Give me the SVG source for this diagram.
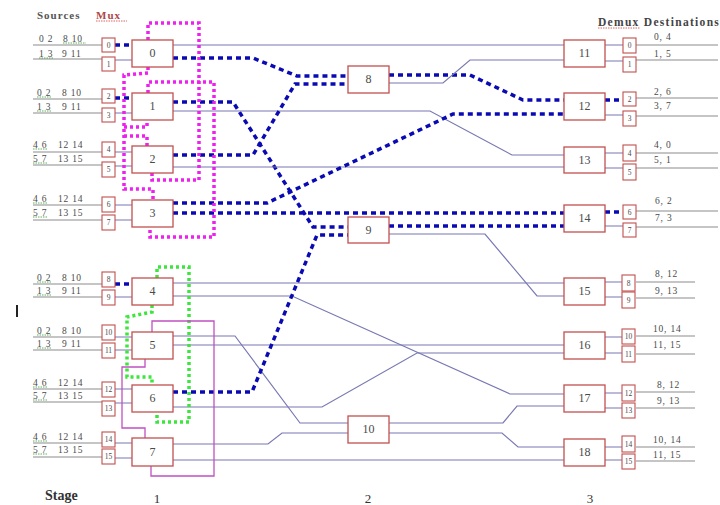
<svg xmlns="http://www.w3.org/2000/svg" width="720" height="505" viewBox="0 0 720 505">
<style>
text{font-family:"Liberation Serif","Times New Roman",serif;fill:#4a4a4a}
.bx{fill:#fff;stroke:#c0504d;stroke-width:1.3}
.sb{fill:#fff;stroke:#c0504d;stroke-width:1.1}
.bl{font-size:12px;text-anchor:middle}
.sl{font-size:7.5px;text-anchor:middle}
.lb{font-size:9.5px;letter-spacing:0.8px}
.t{fill:none;stroke:#7878b4;stroke-width:1.2}
.s{fill:none;stroke:#8c8c8c;stroke-width:1.2}
.d{fill:none;stroke:#0a0ab4;stroke-width:3.5;stroke-dasharray:5,4}
.m{fill:none;stroke:#f01ef0;stroke-width:3.5;stroke-dasharray:3,3}
.g{fill:none;stroke:#3ce63c;stroke-width:3.5;stroke-dasharray:3,3}
.p{fill:none;stroke:#c050c0;stroke-width:1.3}
.u{fill:none;stroke:#3a9a3a;stroke-width:0.8;stroke-dasharray:1.5,1}
</style>
<g id="headers">
<text x="37" y="19" font-size="11" font-weight="bold" letter-spacing="1" style="fill:#555">Sources</text>
<text x="96" y="19" font-size="11" font-weight="bold" letter-spacing="1" style="fill:#b04848">Mux</text>
<path d="M96,21 H127" stroke="#d04040" stroke-width="0.8" stroke-dasharray="1.5,1"/>
<text x="598" y="26" font-size="11.5" font-weight="bold" letter-spacing="1.3" style="fill:#444">Demux Destinations</text>
<path d="M598,28 H640" stroke="#d04040" stroke-width="0.8" stroke-dasharray="1.5,1"/>
<text x="45" y="500" font-size="14" font-weight="bold" style="fill:#333">Stage</text>
<text x="157" y="503" font-size="13" text-anchor="middle" style="fill:#333">1</text>
<text x="368" y="503" font-size="13" text-anchor="middle" style="fill:#333">2</text>
<text x="590" y="503" font-size="13" text-anchor="middle" style="fill:#333">3</text>
<rect x="16" y="305" width="2" height="12" fill="#222"/>
</g>
<g id="source-lines">
<path class="s" d="M33,45 H102 M33,59 H102 M33,99 H102 M33,113 H102 M33,152 H102 M33,165 H102 M33,205 H102 M33,220 H102 M33,284 H102 M33,297 H102 M33,337 H102 M33,350 H102 M33,389 H102 M33,402 H102 M33,443 H102 M33,457 H102"/>
<path class="s" d="M636,45 H718 M636,60 H718 M636,98 H718 M636,116 H718 M636,153 H718 M636,168 H718 M636,211 H718 M636,227 H718 M636,282 H695 M636,298 H695 M636,336 H695 M636,354 H695 M636,392 H695 M636,408 H695 M636,447 H695 M636,461 H695"/>
</g>
<g id="source-labels" class="lb">
<text x="39" y="42">0 2<tspan x="63">8 10</tspan></text>
<text x="39" y="57">1 3<tspan x="62">9  11</tspan></text>
<text x="37" y="96">0 2<tspan x="62">8  10</tspan></text>
<text x="37" y="110">1 3<tspan x="62">9  11</tspan></text>
<text x="33" y="148">4 6<tspan x="58">12 14</tspan></text>
<text x="33" y="162">5 7<tspan x="58">13 15</tspan></text>
<text x="33" y="202">4 6<tspan x="58">12 14</tspan></text>
<text x="33" y="216">5 7<tspan x="58">13 15</tspan></text>
<text x="37" y="281">0 2<tspan x="62">8  10</tspan></text>
<text x="37" y="294">1 3<tspan x="62">9  11</tspan></text>
<text x="37" y="334">0 2<tspan x="62">8  10</tspan></text>
<text x="37" y="347">1 3<tspan x="62">9  11</tspan></text>
<text x="33" y="386">4 6<tspan x="58">12 14</tspan></text>
<text x="33" y="399">5 7<tspan x="58">13 15</tspan></text>
<text x="33" y="440">4 6<tspan x="58">12 14</tspan></text>
<text x="33" y="453">5 7<tspan x="58">13 15</tspan></text>
<path class="u" d="M63,43 H86 M39,58 H54 M37,97 H52 M37,111 H52 M33,149 H48 M33,163 H48 M33,203 H48 M33,217 H48 M37,282 H52 M37,295 H52 M37,335 H52 M37,348 H52 M33,387 H48 M33,400 H48 M33,441 H48 M33,454 H48"/>
</g>
<g id="dest-labels" class="lb">
<text x="654" y="40">0, 4</text>
<text x="654" y="57">1, 5</text>
<text x="654" y="95">2, 6</text>
<text x="654" y="109">3, 7</text>
<text x="654" y="148">4, 0</text>
<text x="654" y="163">5, 1</text>
<text x="655" y="204">6, 2</text>
<text x="655" y="221">7, 3</text>
<text x="655" y="277">8, 12</text>
<text x="655" y="294">9, 13</text>
<text x="653" y="332">10, 14</text>
<text x="653" y="348">11, 15</text>
<text x="657" y="388">8, 12</text>
<text x="657" y="404">9, 13</text>
<text x="653" y="443">10, 14</text>
<text x="653" y="458">11, 15</text>
</g>
<g id="connectors">
<path class="d" d="M115,45 H132 M115,98 H132 M115,284 H132"/>
<path class="t" d="M115,60 H132 M115,113 H132 M115,152 H132 M115,166 H132 M115,205 H132 M115,220 H132 M115,297 H132 M115,337 H132 M115,350 H132 M115,389 H132 M115,403 H132 M115,443 H132 M115,458 H132"/>
<path class="t" d="M173,45 H564"/>
<path class="d" d="M173,58 H253 L297,76 H348"/>
<path class="d" d="M173,102 H233 L313,227 H348"/>
<path class="t" d="M173,111 H430 L512,155 H564"/>
<path class="d" d="M173,155 H253 L295,84 H348"/>
<path class="t" d="M173,167 H564"/>
<path class="d" d="M173,203 H267 L453,114 H564"/>
<path class="d" d="M173,213 H564"/>
<path class="t" d="M173,283 H564"/>
<path class="t" d="M173,296 H292 L510,394 H564"/>
<path class="t" d="M173,336 H235 L300,423 H348"/>
<path class="t" d="M173,345 H564"/>
<path class="d" d="M173,392 H252 L317,235 H348"/>
<path class="t" d="M173,407 H322 L417,353 H564"/>
<path class="t" d="M173,444 H268 L282,433 H348"/>
<path class="t" d="M173,460 H564"/>
<path class="d" d="M389,75 H470 L523,100 H564"/>
<path class="t" d="M389,83 H443 L470,60 H564"/>
<path class="d" d="M389,226 H564"/>
<path class="t" d="M389,234 H485 L537,296 H564"/>
<path class="t" d="M389,423 H503 L517,406 H564"/>
<path class="t" d="M389,433 H502 L518,447 H564"/>
<path class="d" d="M605,100 H623 M605,212 H623"/>
<path class="t" d="M605,45 H623 M605,61 H623 M605,115 H623 M605,153 H623 M605,168 H623 M605,226 H623 M605,282 H623 M605,297 H623 M605,337 H623 M605,353 H623 M605,393 H623 M605,408 H623 M605,447 H623 M605,460 H623"/>
</g>
<g id="groupings">
<path class="m" d="M148,40 V23 H199 V180 H152 V173"/>
<path class="m" d="M148,93 V82 H214 V237 H150 V227"/>
<path class="m" d="M148,67 V73 L124,75 V189 H153 V200 M124,127 H147 V120 M124,136 H147 V146"/>
<path class="g" d="M157,278 V267 H189 V422 H157 V412"/>
<path class="g" d="M152,305 V312 L127,317 V377 H152 V385"/>
<path class="p" d="M152,332 V321 H214 V476 H151 V466"/>
<path class="p" d="M145,359 V367 H122 V428 H145 V438"/>
</g>
<g id="in-ports">
<rect class="sb" x="102" y="38" width="13" height="14"/><text class="sl" x="108.5" y="48">0</text>
<rect class="sb" x="102" y="57" width="13" height="14"/><text class="sl" x="108.5" y="67">1</text>
<rect class="sb" x="102" y="89" width="13" height="14"/><text class="sl" x="108.5" y="99">2</text>
<rect class="sb" x="102" y="108" width="13" height="14"/><text class="sl" x="108.5" y="118">3</text>
<rect class="sb" x="102" y="142" width="13" height="15"/><text class="sl" x="108.5" y="152">4</text>
<rect class="sb" x="102" y="162" width="13" height="15"/><text class="sl" x="108.5" y="172">5</text>
<rect class="sb" x="102" y="197" width="13" height="15"/><text class="sl" x="108.5" y="207">6</text>
<rect class="sb" x="102" y="215" width="13" height="15"/><text class="sl" x="108.5" y="225">7</text>
<rect class="sb" x="102" y="272" width="13" height="15"/><text class="sl" x="108.5" y="282">8</text>
<rect class="sb" x="102" y="290" width="13" height="15"/><text class="sl" x="108.5" y="300">9</text>
<rect class="sb" x="102" y="325" width="13" height="15"/><text class="sl" x="108.5" y="335">10</text>
<rect class="sb" x="102" y="343" width="13" height="15"/><text class="sl" x="108.5" y="353">11</text>
<rect class="sb" x="102" y="382" width="13" height="15"/><text class="sl" x="108.5" y="392">12</text>
<rect class="sb" x="102" y="401" width="13" height="15"/><text class="sl" x="108.5" y="411">13</text>
<rect class="sb" x="102" y="432" width="13" height="15"/><text class="sl" x="108.5" y="442">14</text>
<rect class="sb" x="102" y="449" width="13" height="15"/><text class="sl" x="108.5" y="459">15</text>
</g>
<g id="out-ports">
<rect class="sb" x="623" y="38" width="13" height="15"/><text class="sl" x="629.5" y="48">0</text>
<rect class="sb" x="623" y="57" width="13" height="15"/><text class="sl" x="629.5" y="67">1</text>
<rect class="sb" x="623" y="92" width="13" height="14"/><text class="sl" x="629.5" y="102">2</text>
<rect class="sb" x="623" y="111" width="13" height="15"/><text class="sl" x="629.5" y="121">3</text>
<rect class="sb" x="623" y="145" width="13" height="16"/><text class="sl" x="629.5" y="156">4</text>
<rect class="sb" x="623" y="164" width="13" height="16"/><text class="sl" x="629.5" y="175">5</text>
<rect class="sb" x="623" y="205" width="13" height="14"/><text class="sl" x="629.5" y="215">6</text>
<rect class="sb" x="623" y="223" width="13" height="14"/><text class="sl" x="629.5" y="233">7</text>
<rect class="sb" x="622" y="275" width="13" height="16"/><text class="sl" x="628.5" y="286">8</text>
<rect class="sb" x="622" y="292" width="13" height="16"/><text class="sl" x="628.5" y="303">9</text>
<rect class="sb" x="622" y="329" width="13" height="15"/><text class="sl" x="628.5" y="339">10</text>
<rect class="sb" x="622" y="346" width="13" height="16"/><text class="sl" x="628.5" y="357">11</text>
<rect class="sb" x="622" y="385" width="13" height="16"/><text class="sl" x="628.5" y="396">12</text>
<rect class="sb" x="622" y="403" width="13" height="15"/><text class="sl" x="628.5" y="413">13</text>
<rect class="sb" x="622" y="436" width="13" height="16"/><text class="sl" x="628.5" y="447">14</text>
<rect class="sb" x="622" y="454" width="13" height="15"/><text class="sl" x="628.5" y="464">15</text>
</g>
<g id="node-0"><rect class="bx" x="132" y="40" width="41" height="27"/><text class="bl" x="152.5" y="57">0</text></g>
<g id="node-1"><rect class="bx" x="132" y="93" width="41" height="27"/><text class="bl" x="152.5" y="110">1</text></g>
<g id="node-2"><rect class="bx" x="132" y="146" width="41" height="27"/><text class="bl" x="152.5" y="163">2</text></g>
<g id="node-3"><rect class="bx" x="132" y="200" width="41" height="27"/><text class="bl" x="152.5" y="217">3</text></g>
<g id="node-4"><rect class="bx" x="132" y="278" width="41" height="27"/><text class="bl" x="152.5" y="295">4</text></g>
<g id="node-5"><rect class="bx" x="132" y="332" width="41" height="27"/><text class="bl" x="152.5" y="349">5</text></g>
<g id="node-6"><rect class="bx" x="132" y="385" width="41" height="27"/><text class="bl" x="152.5" y="402">6</text></g>
<g id="node-7"><rect class="bx" x="132" y="438" width="41" height="28"/><text class="bl" x="152.5" y="456">7</text></g>
<g id="node-8"><rect class="bx" x="348" y="66" width="41" height="27"/><text class="bl" x="368.5" y="83">8</text></g>
<g id="node-9"><rect class="bx" x="348" y="217" width="41" height="26"/><text class="bl" x="368.5" y="234">9</text></g>
<g id="node-10"><rect class="bx" x="348" y="416" width="41" height="27"/><text class="bl" x="368.5" y="433">10</text></g>
<g id="node-11"><rect class="bx" x="564" y="40" width="41" height="27"/><text class="bl" x="584.5" y="57">11</text></g>
<g id="node-12"><rect class="bx" x="564" y="93" width="41" height="27"/><text class="bl" x="584.5" y="110">12</text></g>
<g id="node-13"><rect class="bx" x="564" y="147" width="41" height="26"/><text class="bl" x="584.5" y="164">13</text></g>
<g id="node-14"><rect class="bx" x="564" y="205" width="41" height="27"/><text class="bl" x="584.5" y="222">14</text></g>
<g id="node-15"><rect class="bx" x="564" y="278" width="41" height="27"/><text class="bl" x="584.5" y="295">15</text></g>
<g id="node-16"><rect class="bx" x="564" y="332" width="41" height="27"/><text class="bl" x="584.5" y="349">16</text></g>
<g id="node-17"><rect class="bx" x="564" y="385" width="41" height="27"/><text class="bl" x="584.5" y="402">17</text></g>
<g id="node-18"><rect class="bx" x="564" y="439" width="41" height="27"/><text class="bl" x="584.5" y="456">18</text></g>
</svg>
